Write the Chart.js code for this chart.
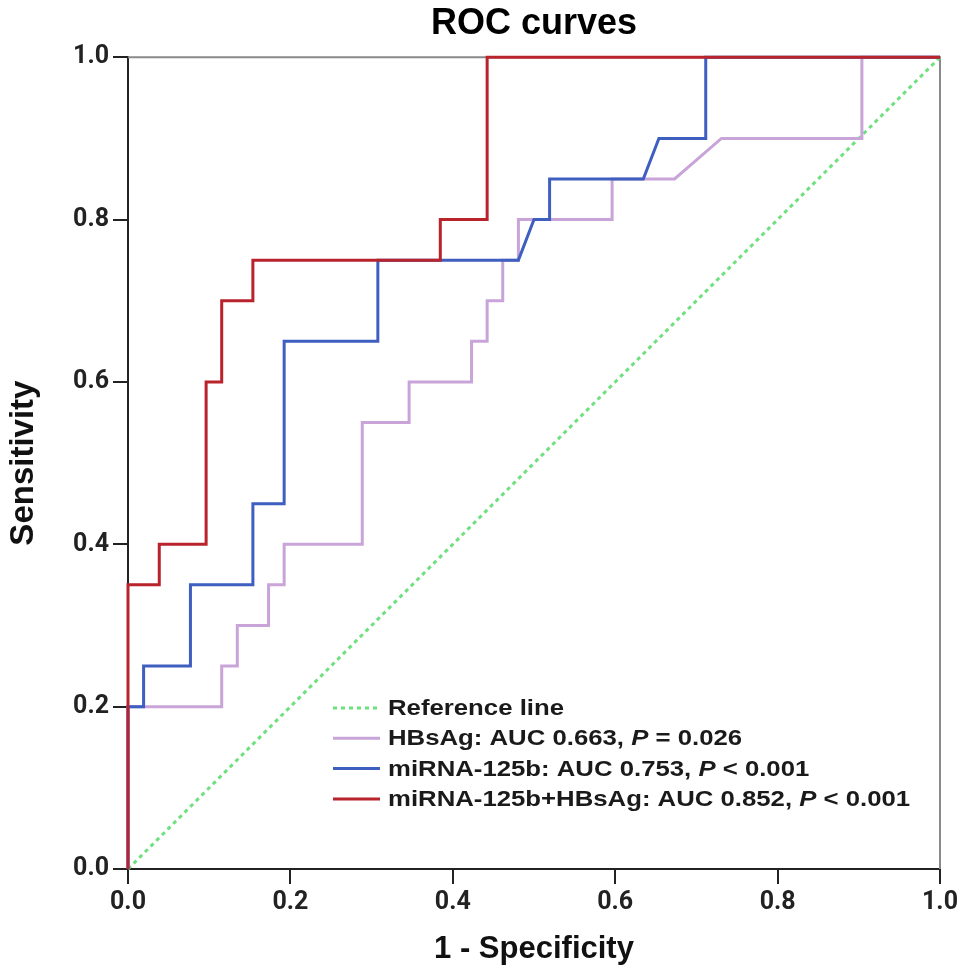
<!DOCTYPE html>
<html>
<head>
<meta charset="utf-8">
<script src="https://cdn.jsdelivr.net/npm/chart.js@4.4.1/dist/chart.umd.min.js"></script>
<style>
  html, body { margin: 0; padding: 0; background: #ffffff; }
  #wrap { width: 969px; height: 979px; position: relative; }
</style>
</head>
<body>
<div id="wrap"><canvas id="c"></canvas></div>
<script>
// ---- Data ----
const titleText = "ROC curves";
const xTitle = "1 - Specificity";
const yTitle = "Sensitivity";
const tickValues = [0.0, 0.2, 0.4, 0.6, 0.8, 1.0];

// Reference line
const refX = [0, 1];
const refY = [0, 1];

// HBsAg
const hbsX = [0, 0, 0.1154, 0.1154, 0.1346, 0.1346, 0.1731, 0.1731, 0.1923, 0.1923, 0.2885, 0.2885, 0.3462, 0.3462, 0.4231, 0.4231, 0.4423, 0.4423, 0.4615, 0.4615, 0.4808, 0.4808, 0.5962, 0.5962, 0.6731, 0.7308, 0.9038, 0.9038, 1];
const hbsY = [0, 0.2, 0.2, 0.25, 0.25, 0.3, 0.3, 0.35, 0.35, 0.4, 0.4, 0.55, 0.55, 0.6, 0.6, 0.65, 0.65, 0.7, 0.7, 0.75, 0.75, 0.8, 0.8, 0.85, 0.85, 0.9, 0.9, 1, 1];

// miRNA-125b
const mirX = [0, 0, 0.0192, 0.0192, 0.0769, 0.0769, 0.1538, 0.1538, 0.1923, 0.1923, 0.3077, 0.3077, 0.4808, 0.5, 0.5192, 0.5192, 0.6346, 0.6538, 0.7115, 0.7115, 1];
const mirY = [0, 0.2, 0.2, 0.25, 0.25, 0.35, 0.35, 0.45, 0.45, 0.65, 0.65, 0.75, 0.75, 0.8, 0.8, 0.85, 0.85, 0.9, 0.9, 1, 1];

// miRNA-125b+HBsAg
const comboX = [0, 0, 0.0385, 0.0385, 0.0962, 0.0962, 0.1154, 0.1154, 0.1538, 0.1538, 0.3846, 0.3846, 0.4423, 0.4423, 1];
const comboY = [0, 0.35, 0.35, 0.4, 0.4, 0.6, 0.6, 0.7, 0.7, 0.75, 0.75, 0.8, 0.8, 1, 1];

// Legend labels (segments: [text, italic])
const legendRef = [["Reference line", false]];
const legendHbs = [["HBsAg: AUC 0.663, ", false], ["P", true], [" = 0.026", false]];
const legendMir = [["miRNA-125b: AUC 0.753, ", false], ["P", true], [" < 0.001", false]];
const legendCombo = [["miRNA-125b+HBsAg: AUC 0.852, ", false], ["P", true], [" < 0.001", false]];

// ---- Styles ----
const cRef = "#6ee07e";
const cHbs = "#c9a4d9";
const cMir = "#3e5ec0";
const cCombo = "#b8232c";
const sansBold = "'Liberation Sans', Arial, sans-serif";

function pts(xs, ys) { return xs.map((x, i) => ({ x: x, y: ys[i] })); }

const frame = {
  id: "frame",
  beforeDatasetsDraw(chart) {
    const a = chart.chartArea, ctx = chart.ctx;
    ctx.save();
    ctx.strokeStyle = "#8a8a8a";
    ctx.lineWidth = 2;
    ctx.beginPath();
    ctx.moveTo(a.left, a.top); ctx.lineTo(a.right, a.top); ctx.lineTo(a.right, a.bottom);
    ctx.stroke();
    ctx.restore();
  }
};

const legendPlugin = {
  id: "customLegend",
  afterDraw(chart) {
    const ctx = chart.ctx;
    const items = [
      { segs: legendRef, color: cRef, dash: [4, 4] },
      { segs: legendHbs, color: cHbs, dash: [] },
      { segs: legendMir, color: cMir, dash: [] },
      { segs: legendCombo, color: cCombo, dash: [] }
    ];
    const x0 = 333, x1 = 380, tx = 388, y0 = 708, dy = 30.3, sx = 1.17;
    ctx.save();
    items.forEach((it, i) => {
      const y = y0 + i * dy;
      ctx.strokeStyle = it.color;
      ctx.lineWidth = 3;
      ctx.setLineDash(it.dash);
      ctx.beginPath(); ctx.moveTo(x0, y); ctx.lineTo(x1, y); ctx.stroke();
      ctx.setLineDash([]);
      ctx.save();
      ctx.translate(tx, y);
      ctx.scale(sx, 1);
      ctx.fillStyle = "#1a1a1a";
      ctx.textBaseline = "middle";
      ctx.textAlign = "left";
      let x = 0;
      it.segs.forEach(s => {
        ctx.font = (s[1] ? "italic " : "") + "bold 22px " + sansBold;
        ctx.fillText(s[0], x, 1);
        x += ctx.measureText(s[0]).width;
      });
      ctx.restore();
    });
    ctx.restore();
  }
};

new Chart(document.getElementById("c"), {
  type: "scatter",
  data: {
    datasets: [
      { label: "miRNA-125b+HBsAg", data: pts(comboX, comboY), borderColor: cCombo, borderWidth: 3, order: 0 },
      { label: "miRNA-125b", data: pts(mirX, mirY), borderColor: cMir, borderWidth: 3, order: 1 },
      { label: "HBsAg", data: pts(hbsX, hbsY), borderColor: cHbs, borderWidth: 3, order: 2 },
      { label: "Reference line", data: pts(refX, refY), borderColor: cRef, borderWidth: 3, borderDash: [4, 4], order: 3 }
    ].map(d => Object.assign(d, { showLine: true, pointRadius: 0, pointHoverRadius: 0, tension: 0, fill: false, clip: false, backgroundColor: d.borderColor }))
  },
  options: {
    responsive: true,
    maintainAspectRatio: false,
    animation: false,
    events: [],
    layout: { padding: { left: 0, right: 29, top: 0, bottom: 0 } },
    plugins: {
      legend: { display: false },
      tooltip: { enabled: false },
      title: {
        display: true,
        fullSize: false,
        text: titleText,
        color: "#000",
        font: { family: sansBold, size: 36, weight: "bold" },
        padding: { top: 2, bottom: 12 }
      }
    },
    scales: {
      x: {
        type: "linear",
        min: 0, max: 1,
        afterFit(scale) { scale.height = 110; },
        afterBuildTicks(scale) { scale.ticks = tickValues.map(v => ({ value: v })); },
        ticks: {
          color: "#222",
          font: { family: "Roboto", size: 25, weight: "bold" },
          padding: 4,
          maxRotation: 0,
          callback: v => Number(v).toFixed(1)
        },
        grid: { drawOnChartArea: false, drawTicks: true, tickLength: 15, color: "#222", lineWidth: 2 },
        border: { display: true, color: "#222", width: 2 },
        title: {
          display: true,
          text: xTitle,
          color: "#111",
          font: { family: sansBold, size: 31, weight: "bold" },
          padding: { top: 0, bottom: 11 }
        }
      },
      y: {
        type: "linear",
        min: 0, max: 1,
        afterFit(scale) { scale.width = 128; },
        afterBuildTicks(scale) { scale.ticks = tickValues.map(v => ({ value: v })); },
        ticks: {
          color: "#222",
          font: { family: "Roboto", size: 25, weight: "bold" },
          padding: 4,
          callback: v => Number(v).toFixed(1)
        },
        grid: { drawOnChartArea: false, drawTicks: true, tickLength: 15, color: "#222", lineWidth: 2 },
        border: { display: true, color: "#222", width: 2 },
        title: {
          display: true,
          text: yTitle,
          color: "#111",
          font: { family: sansBold, size: 33, weight: "bold" },
          padding: { top: 4, bottom: 0 }
        }
      }
    }
  },
  plugins: [frame, legendPlugin]
});
</script>
</body>
</html>
